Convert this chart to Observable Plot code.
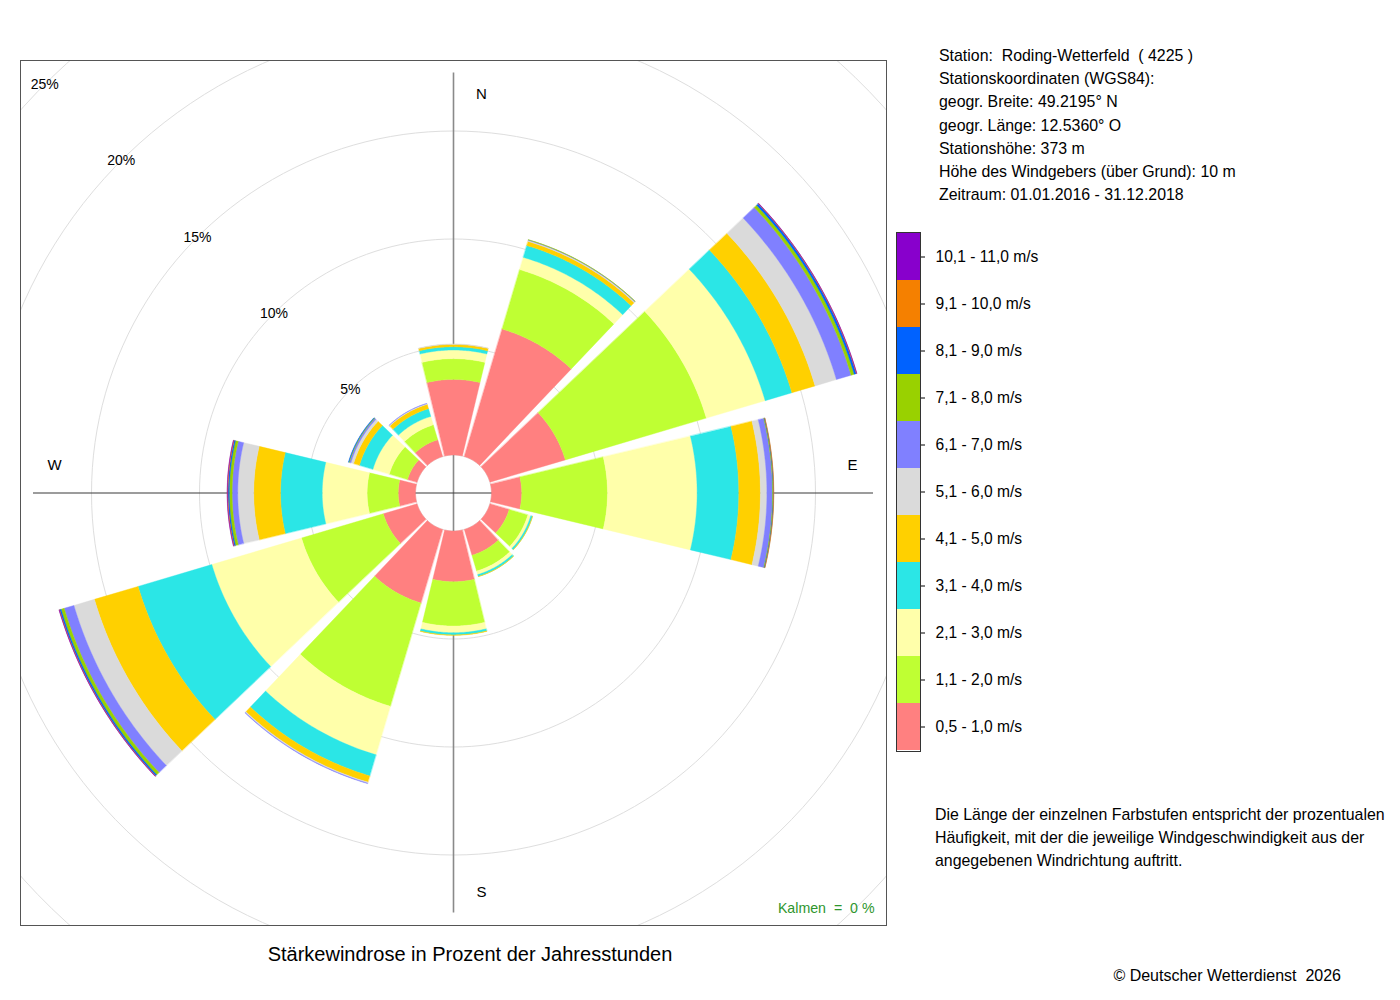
<!DOCTYPE html>
<html><head><meta charset="utf-8">
<script src="https://cdn.jsdelivr.net/npm/d3@7"></script>
<script src="https://cdn.jsdelivr.net/npm/@observablehq/plot@0.6"></script>
<style>
body{margin:0;background:#fff;font-family:"Liberation Sans",Arial,Helvetica,sans-serif;color:#000;}
#page{position:relative;width:1400px;height:1000px;overflow:hidden;}
.abs{position:absolute;white-space:pre;}
svg{overflow:visible;}
</style></head><body><div id="page"></div>
<script>
// ---- data ----
const directions = [0, 30, 60, 90, 120, 150, 180, 210, 240, 270, 300, 330];
const speedClasses = ["0,5 - 1,0 m/s","1,1 - 2,0 m/s","2,1 - 3,0 m/s","3,1 - 4,0 m/s","4,1 - 5,0 m/s","5,1 - 6,0 m/s","6,1 - 7,0 m/s","7,1 - 8,0 m/s","8,1 - 9,0 m/s","9,1 - 10,0 m/s","10,1 - 11,0 m/s"];
const classColors = ["#FF8080","#BFFF33","#FFFFAA","#2BE6E6","#FFD000","#DADADA","#8080FF","#99D100","#0062FF","#F58000","#8800CC"];
// percent of hours per direction (N, 30, 60, ... 330)
const speed05to10  = [3.50, 6.16, 3.64, 1.40, 0.93, 1.25, 2.35, 3.55, 1.63, 0.80, 0.46, 0.81];
const speed11to20  = [0.96, 2.87, 6.81, 3.97, 0.90, 0.76, 2.05, 4.99, 3.95, 1.44, 0.88, 0.72];
const speed21to30  = [0.40, 0.59, 2.84, 4.15, 0.14, 0.17, 0.31, 2.34, 4.33, 2.08, 0.79, 0.41];
const speed31to40  = [0.15, 0.57, 1.29, 1.93, 0.08, 0.09, 0.10, 1.02, 3.56, 1.93, 0.65, 0.37];
const speed41to50  = [0.11, 0.20, 1.12, 1.00, 0.01, 0.01, 0.02, 0.30, 2.11, 1.24, 0.28, 0.21];
const speed51to60  = [0.02, 0.05, 1.03, 0.30, 0.00, 0.00, 0.00, 0.05, 0.99, 0.74, 0.13, 0.04];
const speed61to70  = [0.00, 0.02, 0.71, 0.26, 0.00, 0.00, 0.00, 0.02, 0.47, 0.26, 0.07, 0.01];
const speed71to80  = [0.00, 0.01, 0.15, 0.03, 0.00, 0.00, 0.00, 0.00, 0.15, 0.13, 0.03, 0.00];
const speed81to90  = [0.00, 0.00, 0.10, 0.02, 0.00, 0.00, 0.00, 0.00, 0.07, 0.06, 0.02, 0.00];
const speed91to100 = [0.00, 0.00, 0.02, 0.01, 0.00, 0.00, 0.00, 0.00, 0.02, 0.03, 0.00, 0.00];
const speed101to110= [0.00, 0.00, 0.01, 0.00, 0.00, 0.00, 0.00, 0.00, 0.01, 0.01, 0.00, 0.00];
const series = [speed05to10, speed11to20, speed21to30, speed31to40, speed41to50, speed51to60, speed61to70, speed71to80, speed81to90, speed91to100, speed101to110];
const ringPercents = [0, 5, 10, 15, 20, 25];
const compassLabels = ["N", "E", "S", "W"];
const compassAngles = [0, 90, 180, 270];
const infoLines = ["Station:  Roding-Wetterfeld  ( 4225 )","Stationskoordinaten (WGS84):","geogr. Breite: 49.2195° N","geogr. Länge: 12.5360° O","Stationshöhe: 373 m","Höhe des Windgebers (über Grund): 10 m","Zeitraum: 01.01.2016 - 31.12.2018"];
const noteLines = ["Die Länge der einzelnen Farbstufen entspricht der prozentualen","Häufigkeit, mit der die jeweilige Windgeschwindigkeit aus der","angegebenen Windrichtung auftritt."];
const titleText = "Stärkewindrose in Prozent der Jahresstunden";
const calmText = "Kalmen\u00A0\u00A0=\u00A0\u00A00\u00A0%";
const copyrightText = "© Deutscher Wetterdienst  2026";

// ---- layout constants ----
const PX_PER_PCT = 21.6;
const HOLE = 38 / PX_PER_PCT;      // inner empty circle, in percent units
const HALF = 13.5;                 // half opening of a sector (deg)
const W = 866, H = 865;
const RX = (W / 2) / PX_PER_PCT, RY = (H / 2) / PX_PER_PCT;
const AXIS_LEN = 420 / PX_PER_PCT;
const LABEL_R = 399 / PX_PER_PCT, LABEL_OFF = 28 / PX_PER_PCT;
const rad = d => d * Math.PI / 180;
const FONT = '"Liberation Sans", Arial, Helvetica, sans-serif';

// wedge polygons
const wedgeRows = [];
directions.forEach((dir, i) => {
  let cum = 0;
  series.forEach((vals, k) => {
    const v = vals[i];
    if (!(v > 0)) return;
    const r1 = HOLE + cum, r2 = HOLE + cum + v;
    cum += v;
    const id = dir + "-" + k;
    const n = 40;
    for (let j = 0; j <= n; j++) {
      const a = rad(dir - HALF + 2 * HALF * j / n);
      wedgeRows.push({id, cls: speedClasses[k], x: r2 * Math.sin(a), y: r2 * Math.cos(a)});
    }
    for (let j = n; j >= 0; j--) {
      const a = rad(dir - HALF + 2 * HALF * j / n);
      wedgeRows.push({id, cls: speedClasses[k], x: r1 * Math.sin(a), y: r1 * Math.cos(a)});
    }
  });
});

// grid circles
const ringRows = [];
ringPercents.forEach(p => {
  const r = HOLE + p;
  for (let j = 0; j <= 360; j += 2) ringRows.push({p, x: r * Math.sin(rad(j)), y: r * Math.cos(rad(j))});
});
const ringLabels = ringPercents.filter(p => p > 0).map(p => ({
  text: p + "%", x: -(HOLE + p) * Math.sin(rad(45)), y: (HOLE + p) * Math.cos(rad(45))
}));
const compassRows = compassLabels.map((label, i) => {
  const a = rad(compassAngles[i]);
  return {label, x: LABEL_R * Math.sin(a) + LABEL_OFF * Math.abs(Math.cos(a)), y: LABEL_R * Math.cos(a) + LABEL_OFF * Math.abs(Math.sin(a))};
});

const rose = Plot.plot({
  width: W, height: H, margin: 0,
  x: {domain: [-RX, RX], axis: null},
  y: {domain: [-RY, RY], axis: null},
  color: {domain: speedClasses, range: classColors},
  style: {fontFamily: FONT, fontSize: "14px", background: "white", overflow: "visible"},
  marks: [
    Plot.line(ringRows, {x: "x", y: "y", z: "p", stroke: "#dedede", strokeWidth: 1, clip: true}),
    Plot.ruleX([0], {y1: -AXIS_LEN, y2: AXIS_LEN, stroke: "#8a8a8a", strokeWidth: 1.6}),
    Plot.ruleY([0], {x1: -AXIS_LEN, x2: AXIS_LEN, stroke: "#3a3a3a", strokeWidth: 1.1}),
    Plot.line(wedgeRows, {x: "x", y: "y", z: "id", fill: "cls", stroke: "cls", strokeWidth: 0.4, curve: "linear-closed"}),
    Plot.text(ringLabels, {x: "x", y: "y", text: "text", fontSize: 14, fill: "#000"}),
    Plot.text(compassRows, {x: "x", y: "y", text: "label", fontSize: 15, fill: "#000"}),
    Plot.text([calmText], {frameAnchor: "bottom-right", dx: -12, dy: -13, fill: "#2E962E", fontSize: 14.2}),
    Plot.frame({stroke: "#555", strokeWidth: 1})
  ]
});
const page = document.getElementById("page");
rose.style.position = "absolute"; rose.style.left = "20px"; rose.style.top = "60px";
page.appendChild(rose);

// legend color bar
const legendClasses = speedClasses.slice().reverse();
const legend = Plot.plot({
  width: 180, height: 519, marginLeft: 0, marginRight: 156, marginTop: 0, marginBottom: 0,
  x: {axis: null},
  y: {domain: legendClasses, padding: 0, axis: "right", tickSize: 4, tickPadding: 11, label: null},
  color: {domain: speedClasses, range: classColors},
  style: {fontFamily: FONT, fontSize: "15.6px", color: "#000", background: "transparent", overflow: "visible"},
  marks: [
    Plot.cell(legendClasses, {y: d => d, fill: d => d}),
    Plot.frame({stroke: "#333", strokeWidth: 1})
  ]
});
legend.style.position = "absolute"; legend.style.left = "896px"; legend.style.top = "232px";
page.appendChild(legend);

function addText(text, left, top, size, extra) {
  const d = document.createElement("div");
  d.className = "abs";
  d.textContent = text;
  d.style.left = left + "px"; d.style.top = top + "px"; d.style.fontSize = size + "px";
  Object.assign(d.style, extra || {});
  page.appendChild(d);
  return d;
}
infoLines.forEach((t, i) => addText(t, 939, 45 + i * 23.2, 15.9, {lineHeight: "22px"}));
noteLines.forEach((t, i) => addText(t, 935, 804 + i * 23, 15.9, {lineHeight: "22px"}));
addText(titleText, 0, 942, 20, {width: "940px", textAlign: "center", lineHeight: "24px"});
addText(copyrightText, 0, 965, 16, {width: "1341px", textAlign: "right", lineHeight: "22px"});
</script></body></html>
